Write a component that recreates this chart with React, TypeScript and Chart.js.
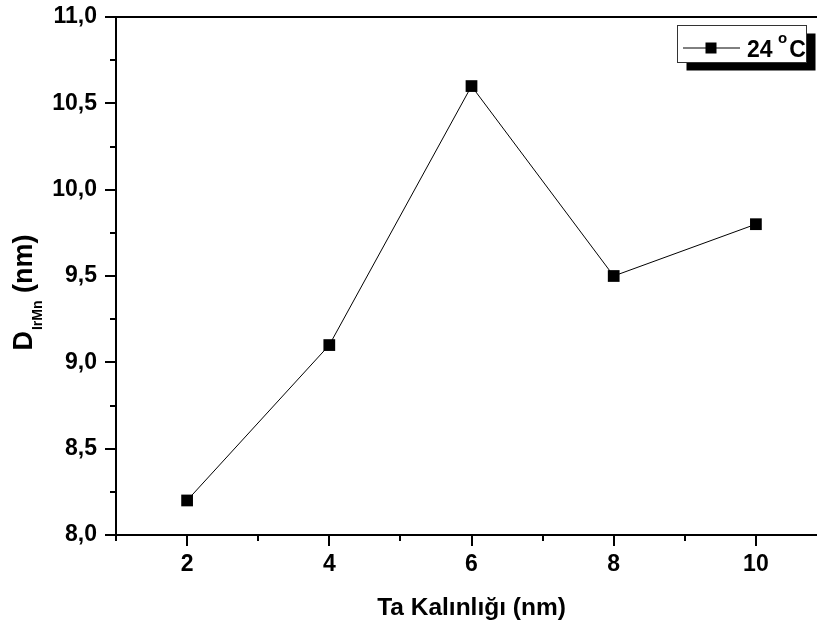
import React, { useEffect, useRef } from 'react';
import { Chart, registerables } from 'chart.js';

Chart.register(...registerables);

// ---- data ----
const thickness = [2, 4, 6, 8, 10];
const diameter = [8.2, 9.1, 10.6, 9.5, 9.8];
const seriesName = '24';
const seriesUnitSup = 'o';
const seriesUnit = 'C';
const xTitle = 'Ta Kalınlığı (nm)';
const yTitleMain = 'D';
const yTitleSub = 'IrMn';
const yTitleUnit = ' (nm)';
const xMin = 1;
const xMax = 11;
const yMin = 8;
const yMax = 11;
const xMajorTicks = [2, 4, 6, 8, 10];
const xMinorTicks = [1, 3, 5, 7, 9, 11];
const yMajorTicks = [8, 8.5, 9, 9.5, 10, 10.5, 11];
const yMinorTicks = [8.25, 8.75, 9.25, 9.75, 10.25, 10.75];

const FONT = 'Arial, "Liberation Sans", sans-serif';

const decorPlugin = {
  id: 'decor',
  afterDraw(chart: any) {
    const { ctx, chartArea } = chart;
    const xs = chart.scales.x;
    const ys = chart.scales.y;
    const { left, right, top, bottom } = chartArea;
    ctx.save();
    ctx.strokeStyle = '#000';
    ctx.lineWidth = 2;
    ctx.lineCap = 'butt';
    ctx.beginPath();
    ctx.moveTo(left, top);
    ctx.lineTo(left, bottom + 1);
    ctx.moveTo(left - 1, bottom);
    ctx.lineTo(right, bottom);
    ctx.moveTo(left - 1, top);
    ctx.lineTo(right, top);
    ctx.moveTo(right, top);
    ctx.lineTo(right, bottom);
    ctx.stroke();

    // ticks
    ctx.beginPath();
    yMajorTicks.forEach((v) => {
      const y = Math.round(ys.getPixelForValue(v));
      ctx.moveTo(left - 11, y);
      ctx.lineTo(left, y);
    });
    yMinorTicks.forEach((v) => {
      const y = Math.round(ys.getPixelForValue(v));
      ctx.moveTo(left - 6, y);
      ctx.lineTo(left, y);
    });
    xMajorTicks.forEach((v) => {
      const x = Math.round(xs.getPixelForValue(v));
      ctx.moveTo(x, bottom);
      ctx.lineTo(x, bottom + 11);
    });
    xMinorTicks.forEach((v) => {
      const x = Math.round(xs.getPixelForValue(v));
      ctx.moveTo(x, bottom);
      ctx.lineTo(x, bottom + 6);
    });
    ctx.stroke();

    // x title
    ctx.fillStyle = '#000';
    ctx.font = `bold 24.5px ${FONT}`;
    ctx.textAlign = 'center';
    ctx.textBaseline = 'alphabetic';
    ctx.fillText(xTitle, (left + right) / 2, 615);

    // y title (rotated, with subscript)
    const mainFont = `bold 27px ${FONT}`;
    const subFont = `bold 14px ${FONT}`;
    ctx.font = mainFont;
    const wD = ctx.measureText(yTitleMain).width;
    const wU = ctx.measureText(yTitleUnit).width;
    ctx.font = subFont;
    const wS = ctx.measureText(yTitleSub).width;
    const total = wD + wS + wU;
    ctx.translate(32, (top + bottom) / 2 + 17);
    ctx.rotate(-Math.PI / 2);
    ctx.textAlign = 'left';
    let cx = -total / 2;
    ctx.font = mainFont;
    ctx.fillText(yTitleMain, cx, 0);
    cx += wD + 1;
    ctx.font = subFont;
    ctx.fillText(yTitleSub, cx, 10);
    cx += wS;
    ctx.font = mainFont;
    ctx.fillText(yTitleUnit, cx, 0);
    ctx.restore();

    // legend
    ctx.save();
    const bx = 677.5, by = 25.5, bw = 129, bh = 37;
    ctx.fillStyle = '#000';
    ctx.fillRect(bx + 9, by + 8, bw, bh);
    ctx.fillStyle = '#fff';
    ctx.fillRect(bx, by, bw, bh);
    ctx.strokeStyle = '#333';
    ctx.lineWidth = 1;
    ctx.strokeRect(bx, by, bw, bh);
    const ly = 48;
    ctx.strokeStyle = '#000';
    ctx.beginPath();
    ctx.moveTo(683, ly);
    ctx.lineTo(740, ly);
    ctx.stroke();
    ctx.fillStyle = '#000';
    ctx.fillRect(705.5, ly - 5.5, 11, 11);
    ctx.font = `bold 23px ${FONT}`;
    ctx.textAlign = 'left';
    ctx.textBaseline = 'alphabetic';
    ctx.fillText(seriesName, 747, 57);
    const w24 = ctx.measureText(seriesName + ' ').width;
    ctx.font = `bold 15px ${FONT}`;
    ctx.fillText(seriesUnitSup, 746 + w24, 43);
    const wo = ctx.measureText(seriesUnitSup).width;
    ctx.font = `bold 23px ${FONT}`;
    ctx.fillText(seriesUnit, 747 + w24 + wo + 1, 57);
    ctx.restore();
  },
};

export default function App() {
  const ref = useRef<HTMLCanvasElement>(null);
  useEffect(() => {
    if (!ref.current) return;
    const chart = new Chart(ref.current, {
      type: 'line',
      data: {
        datasets: [
          {
            label: seriesName,
            data: thickness.map((t, i) => ({ x: t, y: diameter[i] })),
            borderColor: '#000',
            borderWidth: 1,
            backgroundColor: '#000',
            pointStyle: 'rect',
            pointRadius: 8.3,
            pointBorderWidth: 0,
            pointBackgroundColor: '#000',
            tension: 0,
          },
        ],
      },
      options: {
        responsive: false,
        animation: false,
        devicePixelRatio: 1,
        layout: { padding: { left: 8, top: 17, right: 13, bottom: 0 } },
        plugins: { legend: { display: false }, tooltip: { enabled: false } },
        scales: {
          x: {
            type: 'linear',
            min: xMin,
            max: xMax,
            grid: { display: false, drawTicks: false },
            border: { display: false },
            ticks: {
              stepSize: 1,
              autoSkip: false,
              maxRotation: 0,
              color: '#000',
              padding: 16,
              font: { family: FONT, size: 23, weight: 'bold' },
              callback: (v: any) => (xMajorTicks.includes(Number(v)) ? String(v) : ''),
            },
            afterFit: (s: any) => {
              s.height = 95;
              s.paddingLeft = 0;
              s.paddingRight = 0;
            },
          },
          y: {
            min: yMin,
            max: yMax,
            grid: { display: false, drawTicks: false },
            border: { display: false },
            ticks: {
              stepSize: 0.5,
              color: '#000',
              padding: 19,
              font: { family: FONT, size: 23, weight: 'bold' },
              callback: (v: any) => Number(v).toFixed(1).replace('.', ','),
            },
            afterFit: (s: any) => {
              s.width = 108;
              s.paddingTop = 0;
              s.paddingBottom = 0;
            },
          },
        },
      },
      plugins: [decorPlugin],
    });
    return () => chart.destroy();
  }, []);
  return (
    <div
      style={{
        position: 'fixed',
        left: 0,
        top: 0,
        width: 817,
        height: 630,
        overflow: 'hidden',
        background: '#fff',
      }}
    >
      <canvas ref={ref} width={840} height={630} style={{ display: 'block' }} />
    </div>
  );
}
